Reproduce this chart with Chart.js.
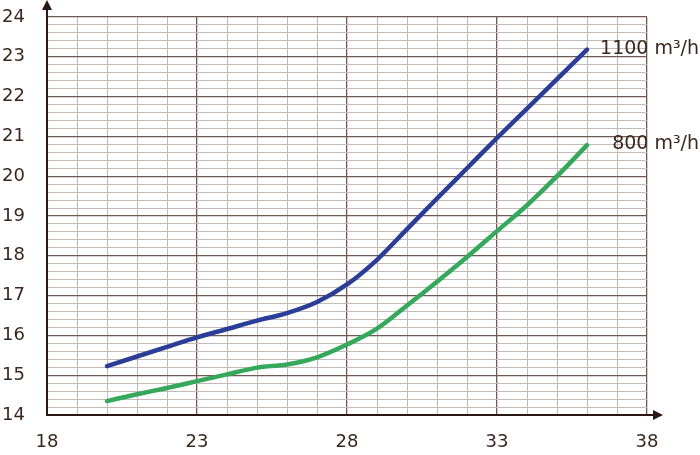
<!DOCTYPE html>
<html>
<head>
<meta charset="utf-8">
<script src="https://cdn.jsdelivr.net/npm/chart.js@4/dist/chart.umd.min.js"></script>
<style>
html,body{margin:0;padding:0;background:#fff;}
#wrap{width:700px;height:455px;position:relative;}
</style>
</head>
<body>
<div id="wrap"><canvas id="c" width="700" height="455"></canvas></div>
<script>
const xValues = [20,21,22,23,24,25,26,27,28,29,30,31,32,33,34,35,36];
const flow1100 = [15.23,15.47,15.71,15.95,16.16,16.37,16.56,16.84,17.28,17.9,18.67,19.44,20.2,20.96,21.7,22.44,23.18];
const flow800 = [14.35,14.52,14.68,14.85,15.02,15.19,15.27,15.45,15.77,16.17,16.75,17.35,17.97,18.62,19.27,20.0,20.78];
const seriesLabels = ['1100 m³/h','800 m³/h'];
const xTickLabels = [18,23,28,33,38];
const yTickLabels = [14,15,16,17,18,19,20,21,22,23,24];

const FONT = "'DejaVu Sans', sans-serif";
const TEXT = '#3a2820';
const AXIS = '#2a1812';
const MAJOR = '#6c5a53';
const MINOR = '#c4bab6';

function pts(ys){ return xValues.map((x,i)=>({x:x,y:ys[i]})); }
function isInt(v){ return Math.abs(v-Math.round(v))<1e-6; }

const endLabels = {
  id:'endLabels',
  afterDatasetsDraw(chart){
    const ctx = chart.ctx;
    ctx.save();
    ctx.font = '19px ' + FONT;
    ctx.fillStyle = TEXT;
    ctx.textAlign = 'right';
    ctx.textBaseline = 'middle';
    chart.data.datasets.forEach((ds,i)=>{
      const meta = chart.getDatasetMeta(i);
      const last = meta.data[meta.data.length-1];
      ctx.fillText(ds.label, chart.width-1, last.y - 1);
    });
    ctx.restore();
  }
};

const arrows = {
  id:'arrows',
  afterDraw(chart){
    const ctx = chart.ctx, a = chart.chartArea;
    ctx.save();
    ctx.strokeStyle = AXIS; ctx.fillStyle = AXIS; ctx.lineWidth = 2;
    ctx.beginPath();
    ctx.moveTo(a.left, a.top); ctx.lineTo(a.left, 8);
    ctx.moveTo(a.right, a.bottom); ctx.lineTo(656, a.bottom);
    ctx.stroke();
    ctx.beginPath();
    ctx.moveTo(a.left, 0); ctx.lineTo(a.left-5, 10); ctx.lineTo(a.left+5, 10); ctx.closePath(); ctx.fill();
    ctx.beginPath();
    ctx.moveTo(663, a.bottom); ctx.lineTo(653, a.bottom-5); ctx.lineTo(653, a.bottom+5); ctx.closePath(); ctx.fill();
    ctx.restore();
  }
};

new Chart(document.getElementById('c'), {
  type:'line',
  data:{
    datasets:[
      {label:seriesLabels[0], data:pts(flow1100), borderColor:'#2b3d97', borderWidth:4.5, pointRadius:0, cubicInterpolationMode:'monotone', borderCapStyle:'round'},
      {label:seriesLabels[1], data:pts(flow800), borderColor:'#36a85c', borderWidth:4.5, pointRadius:0, cubicInterpolationMode:'monotone', borderCapStyle:'round'}
    ]
  },
  options:{
    responsive:false,
    animation:false,
    layout:{padding:{top:17, right:53, left:0, bottom:0}},
    plugins:{legend:{display:false}, tooltip:{enabled:false}},
    scales:{
      x:{
        type:'linear', min:18, max:38,
        afterFit(s){ s.height = 40; s.paddingLeft = 0; s.paddingRight = 0; },
        border:{display:true, color:AXIS, width:2},
        grid:{drawTicks:false, color:c=> (c.tick && Math.round(c.tick.value)%5===3) ? MAJOR : MINOR, lineWidth:c=> (c.tick && Math.round(c.tick.value)%5===3) ? 1.3 : 1},
        ticks:{stepSize:1, autoSkip:false, maxRotation:0, padding:17, color:TEXT, font:{family:FONT, size:18},
          callback:v=> xTickLabels.includes(Math.round(v)) && isInt(v) ? String(Math.round(v)) : ''}
      },
      y:{
        type:'linear', min:14, max:24,
        afterFit(s){ s.width = 47; s.paddingTop = 0; s.paddingBottom = 0; },
        border:{display:true, color:AXIS, width:2},
        grid:{drawTicks:false, color:c=> (c.tick && isInt(c.tick.value)) ? MAJOR : MINOR, lineWidth:c=> (c.tick && isInt(c.tick.value)) ? 1.3 : 1},
        ticks:{stepSize:0.2, autoSkip:false, padding:22, color:TEXT, font:{family:FONT, size:18},
          callback:v=> isInt(v) && yTickLabels.includes(Math.round(v)) ? String(Math.round(v)) : ''}
      }
    }
  },
  plugins:[endLabels, arrows]
});
</script>
</body>
</html>
